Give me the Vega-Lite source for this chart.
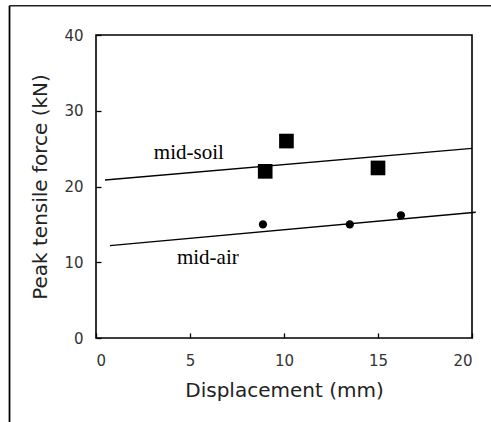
{
  "$schema": "https://vega.github.io/schema/vega-lite/v6.json",
  "width": 376,
  "height": 303,
  "autosize": {"type": "none"},
  "padding": {"left": 96, "top": 35, "right": 19, "bottom": 84},
  "background": "white",
  "config": {
    "view": {"stroke": "black", "strokeWidth": 1.6},
    "axis": {
      "grid": false,
      "domain": false,
      "tickSize": -5,
      "tickColor": "black",
      "tickWidth": 1.3,
      "labelFont": "DejaVu Sans",
      "labelFontSize": 15,
      "labelColor": "#333333",
      "titleFont": "DejaVu Sans",
      "titleFontSize": 20,
      "titleFontWeight": "normal",
      "titleColor": "#222222"
    }
  },
  "datasets": {
    "points": [
      {"series": "mid-soil", "disp": 9.0, "force": 22.0},
      {"series": "mid-soil", "disp": 10.13, "force": 26.0},
      {"series": "mid-soil", "disp": 15.0, "force": 22.45},
      {"series": "mid-air", "disp": 8.88, "force": 15.0},
      {"series": "mid-air", "disp": 13.5, "force": 15.0},
      {"series": "mid-air", "disp": 16.22, "force": 16.2}
    ],
    "fits": [
      {"series": "mid-soil", "disp": 0.48, "force": 20.86},
      {"series": "mid-soil", "disp": 20.0, "force": 25.04},
      {"series": "mid-air", "disp": 0.74, "force": 12.2},
      {"series": "mid-air", "disp": 20.2, "force": 16.6}
    ],
    "labels": [
      {"text": "mid-soil", "disp": 4.94, "force": 23.6},
      {"text": "mid-air", "disp": 5.95, "force": 9.73}
    ],
    "frame": [
      {"x0": -4.6, "x1": 21.5, "ytop": 43.86, "ybot": -13}
    ]
  },
  "layer": [
    {
      "data": {"name": "frame"},
      "mark": {"type": "rule", "stroke": "#222222", "strokeWidth": 1.6, "clip": false},
      "encoding": {
        "x": {"field": "x0", "type": "quantitative", "scale": {"domain": [0, 20], "nice": false, "zero": false}},
        "x2": {"field": "x1"},
        "y": {"field": "ytop", "type": "quantitative", "scale": {"domain": [0, 40], "nice": false}}
      }
    },
    {
      "data": {"name": "frame"},
      "mark": {"type": "rule", "stroke": "black", "strokeWidth": 1.8, "clip": false},
      "encoding": {
        "x": {"field": "x0", "type": "quantitative"},
        "y": {"field": "ytop", "type": "quantitative"},
        "y2": {"field": "ybot"}
      }
    },
    {
      "data": {"name": "fits"},
      "mark": {"type": "line", "stroke": "black", "strokeWidth": 1.3, "clip": false},
      "encoding": {
        "x": {"field": "disp", "type": "quantitative", "scale": {"domain": [0, 20], "nice": false},
          "axis": {"values": [0, 5, 10, 15, 20], "title": "Displacement (mm)", "labelPadding": 20, "titlePadding": 12}},
        "y": {"field": "force", "type": "quantitative", "scale": {"domain": [0, 40], "nice": false},
          "axis": {"values": [0, 10, 20, 30, 40], "title": "Peak tensile force (kN)", "labelPadding": 18, "titlePadding": 13}},
        "detail": {"field": "series"}
      }
    },
    {
      "data": {"name": "points"},
      "transform": [{"filter": "datum.series === 'mid-soil'"}],
      "mark": {"type": "point", "shape": "square", "filled": true, "color": "black", "size": 215, "opacity": 1},
      "encoding": {
        "x": {"field": "disp", "type": "quantitative"},
        "y": {"field": "force", "type": "quantitative"}
      }
    },
    {
      "data": {"name": "points"},
      "transform": [{"filter": "datum.series === 'mid-air'"}],
      "mark": {"type": "point", "shape": "circle", "filled": true, "color": "black", "size": 68, "opacity": 1},
      "encoding": {
        "x": {"field": "disp", "type": "quantitative"},
        "y": {"field": "force", "type": "quantitative"}
      }
    },
    {
      "data": {"name": "labels"},
      "mark": {"type": "text", "font": "Liberation Serif", "fontSize": 21, "color": "black", "align": "center", "baseline": "alphabetic"},
      "encoding": {
        "x": {"field": "disp", "type": "quantitative"},
        "y": {"field": "force", "type": "quantitative"},
        "text": {"field": "text"}
      }
    }
  ]
}
